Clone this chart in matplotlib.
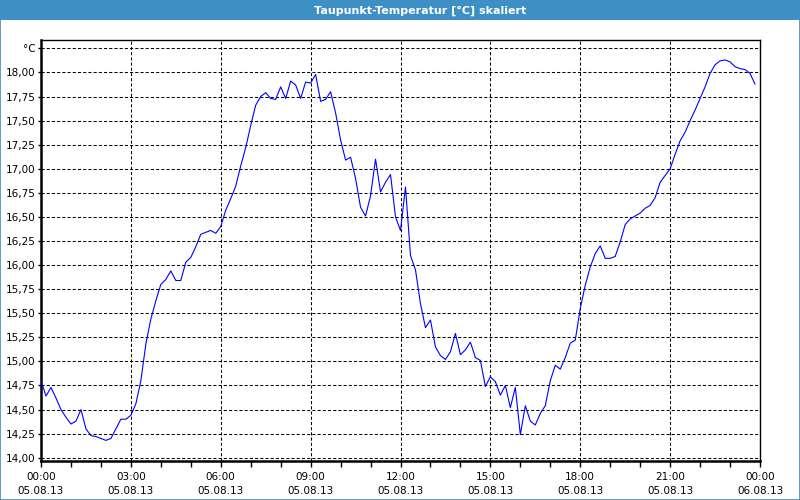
import matplotlib
matplotlib.use("Agg")
import matplotlib.pyplot as plt
import matplotlib.dates as mdates
import pandas as pd
from matplotlib.patches import Rectangle

title = "Taupunkt-Temperatur [°C] skaliert"
unit_label = "°C"
start = "2013-08-05 00:00"
end = "2013-08-06 00:00"

values = [
    14.80, 14.64, 14.73, 14.62, 14.50, 14.42, 14.35, 14.38, 14.50, 14.30,
    14.23, 14.22, 14.20, 14.18, 14.20, 14.30, 14.40, 14.40, 14.44, 14.56,
    14.80, 15.18, 15.44, 15.63, 15.80, 15.85, 15.94, 15.84, 15.84, 16.03,
    16.08, 16.19, 16.32, 16.34, 16.36, 16.33, 16.40, 16.57, 16.69, 16.82,
    17.03, 17.22, 17.45, 17.66, 17.75, 17.79, 17.73, 17.72, 17.85, 17.73,
    17.91, 17.87, 17.73, 17.90, 17.89, 17.98, 17.70, 17.72, 17.80, 17.58,
    17.30, 17.09, 17.12, 16.90, 16.60, 16.51, 16.72, 17.10, 16.76, 16.86,
    16.94, 16.50, 16.36, 16.81, 16.10, 15.95, 15.60, 15.35, 15.43, 15.15,
    15.06, 15.02, 15.10, 15.29, 15.07, 15.12, 15.20, 15.04, 15.01, 14.74,
    14.84, 14.79, 14.65, 14.75, 14.52, 14.73, 14.24, 14.54, 14.38, 14.34,
    14.46, 14.54, 14.80, 14.96, 14.92, 15.04, 15.19, 15.22, 15.55, 15.79,
    15.98, 16.12, 16.20, 16.07, 16.07, 16.09, 16.24, 16.42, 16.48, 16.51,
    16.54, 16.59, 16.62, 16.70, 16.86, 16.93, 17.00, 17.15, 17.29, 17.38,
    17.50, 17.61, 17.73, 17.85, 17.99, 18.08, 18.12, 18.13, 18.11, 18.06,
    18.04, 18.03, 17.99, 17.88,
]
times = pd.date_range(start, periods=len(values), freq="10min")

yticks = [14.00, 14.25, 14.50, 14.75, 15.00, 15.25, 15.50, 15.75, 16.00,
          16.25, 16.50, 16.75, 17.00, 17.25, 17.50, 17.75, 18.00, 18.25]
ylabels = [f"{v:.2f}".replace(".", ",") for v in yticks[:-1]] + [unit_label]

plt.rcParams['font.family'] = ['DejaVu Sans']
fig = plt.figure(figsize=(8, 5), dpi=100)
fig.patch.set_facecolor("white")

bar_color = "#3d8fc4"
fig.add_artist(Rectangle((0, 1 - 20 / 500), 1, 20 / 500, transform=fig.transFigure,
                         facecolor=bar_color, edgecolor="none", zorder=0))
fig.add_artist(Rectangle((0.0006, 0.001), 0.9988, 0.998, transform=fig.transFigure,
                         facecolor="none", edgecolor=bar_color, linewidth=1.2, zorder=5))
fig.text(420 / 800, 1 - 10.5 / 500, title, color="white", fontsize=8, fontweight="bold",
         ha="center", va="center", family="DejaVu Sans")

ax = fig.add_axes([41 / 800, 1 - 461 / 500, (760 - 41) / 800, (461 - 40) / 500])
ax.plot(times, values, color="#0000ff", linewidth=0.8, zorder=3)

ax.set_xlim(pd.Timestamp(start), pd.Timestamp(end))
ax.set_ylim(13.966, 18.337)
ax.set_yticks(yticks)
ax.set_yticklabels(ylabels)

ax.xaxis.set_major_locator(mdates.HourLocator(byhour=range(0, 24, 3)))
ax.xaxis.set_minor_locator(mdates.HourLocator())
ax.xaxis.set_major_formatter(mdates.DateFormatter("%H:%M\n%d.%m.%y"))

ax.grid(True, which="major", color="black", linestyle=(0, (3, 2)), linewidth=0.75)
ax.tick_params(axis="x", which="major", length=4, width=1, direction="out",
               labelsize=7.5, pad=4)
ax.tick_params(axis="x", which="minor", length=4, width=1, direction="out")
ax.tick_params(axis="y", which="major", length=2, width=1, direction="out",
               labelsize=7.5, pad=2)
for lbl in ax.get_xticklabels():
    lbl.set_linespacing(1.5)

for side in ["top", "right"]:
    ax.spines[side].set_linewidth(1.0)
for side in ["left", "bottom"]:
    ax.spines[side].set_linewidth(1.8)
for s in ax.spines.values():
    s.set_color("black")

fig.savefig("out.png", dpi=100)
